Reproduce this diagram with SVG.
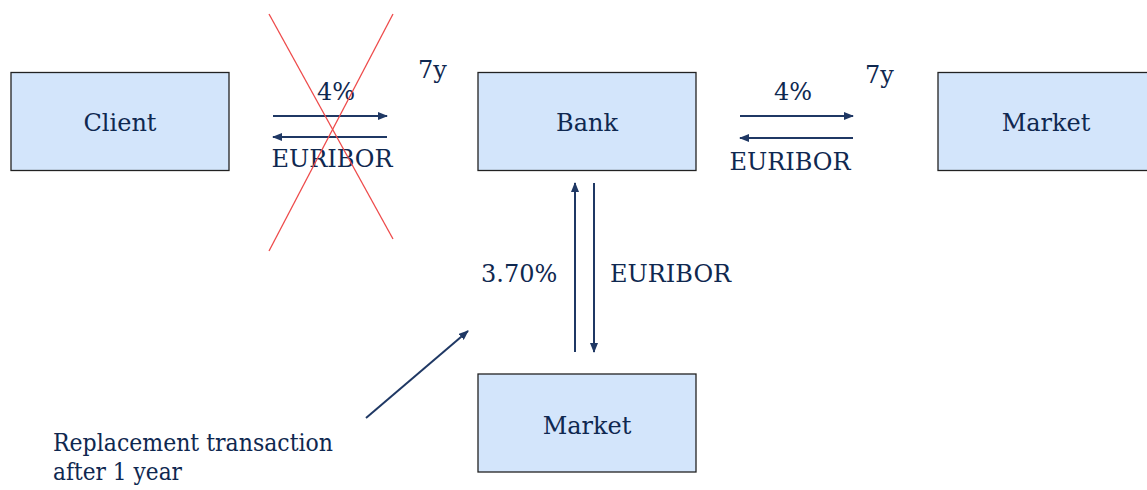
<svg xmlns="http://www.w3.org/2000/svg" width="1147" height="490" viewBox="0 0 1147 490">
<style>
.box{fill:#d3e5fb;stroke:#222;stroke-width:1.3}
.t{font-family:'DejaVu Serif','Liberation Serif',serif;font-size:24px;fill:#0f2850}
.c{text-anchor:middle}
.a{stroke:#1f3864;stroke-width:2;fill:none}
.x{stroke:#ee4a4a;stroke-width:1.3}
</style>
<defs>
<marker id="ah" markerWidth="10" markerHeight="8" refX="9" refY="4" orient="auto" markerUnits="userSpaceOnUse">
<path d="M0,0 L10,4 L0,8 z" fill="#1f3864"/>
</marker>
</defs>
<rect width="1147" height="490" fill="#fff"/>
<g id="client"><rect class="box" x="11" y="72.5" width="218" height="98"/><text class="t c" x="120" y="131">Client</text></g>
<g id="bank"><rect class="box" x="478" y="72.5" width="218" height="98"/><text class="t c" x="587" y="131">Bank</text></g>
<g id="market-right"><rect class="box" x="938" y="72.5" width="215" height="98"/><text class="t c" x="1046" y="131">Market</text></g>
<g id="market-bottom"><rect class="box" x="478" y="374" width="218" height="98"/><text class="t c" x="587" y="434">Market</text></g>
<g id="connectors">
<line class="a" x1="273" y1="116" x2="387" y2="116" marker-end="url(#ah)"/>
<line class="a" x1="387" y1="137" x2="273" y2="137" marker-end="url(#ah)"/>
<line class="a" x1="740" y1="116" x2="853" y2="116" marker-end="url(#ah)"/>
<line class="a" x1="853" y1="138" x2="740" y2="138" marker-end="url(#ah)"/>
<line class="a" x1="575" y1="352" x2="575" y2="183" marker-end="url(#ah)"/>
<line class="a" x1="594" y1="183" x2="594" y2="352" marker-end="url(#ah)"/>
<line class="a" x1="366" y1="418" x2="468" y2="331" marker-end="url(#ah)"/>
</g>
<g id="labels">
<text class="t c" x="336" y="100">4%</text>
<text class="t c" x="332" y="167">EURIBOR</text>
<text class="t" x="418" y="78">7y</text>
<text class="t c" x="793" y="100">4%</text>
<text class="t c" x="790" y="170">EURIBOR</text>
<text class="t" x="865" y="83">7y</text>
<text class="t" x="481" y="282">3.70%</text>
<text class="t" x="610" y="282">EURIBOR</text>
<text class="t" x="53" y="451" textLength="280" lengthAdjust="spacingAndGlyphs">Replacement transaction</text>
<text class="t" x="53" y="480" textLength="129" lengthAdjust="spacingAndGlyphs">after 1 year</text>
</g>
<g id="cross">
<line class="x" x1="269" y1="14" x2="393" y2="239"/>
<line class="x" x1="393" y1="14" x2="269" y2="251"/>
</g>
</svg>
